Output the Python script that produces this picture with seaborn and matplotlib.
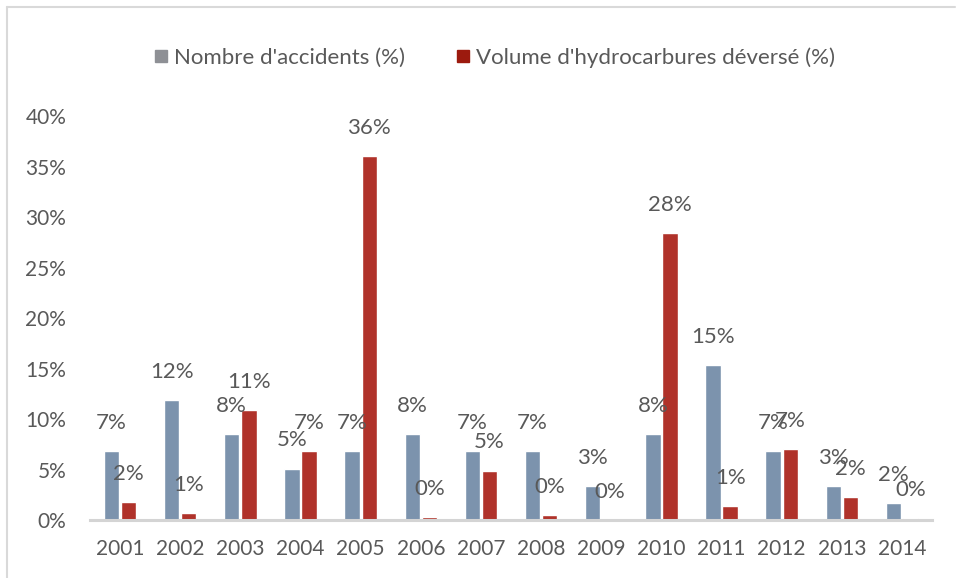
import seaborn as sns
import matplotlib.pyplot as plt
import pandas as pd
from matplotlib.ticker import PercentFormatter
from matplotlib.lines import Line2D

# Values (in %)
years = ['2001', '2002', '2003', '2004', '2005', '2006', '2007',
         '2008', '2009', '2010', '2011', '2012', '2013', '2014']
accidents = [6.8, 11.9, 8.5, 5.1, 6.8, 8.5, 6.8, 6.8, 3.4, 8.5, 15.3, 6.8, 3.4, 1.7]
volume = [1.8, 0.7, 10.9, 6.8, 36.0, 0.3, 4.9, 0.5, 0.0, 28.4, 1.4, 7.0, 2.3, 0.2]
series = ["Nombre d'accidents (%)", "Volume d'hydrocarbures déversé (%)"]

bar_colors = ['#7c93ad', '#b0322a']
legend_colors = ['#8e9095', '#9c1a0e']
text_color = '#595959'

df = pd.DataFrame({
    'year': years * 2,
    'value': accidents + volume,
    'serie': [series[0]] * len(years) + [series[1]] * len(years),
})

sns.set_theme(style='white')
plt.rcParams['font.family'] = ['Lato', 'DejaVu Sans']

fig = plt.figure(figsize=(9.56, 5.78), dpi=100)
ax = fig.add_axes([0.0941, 0.1003, 0.8809, 0.699])

sns.barplot(data=df, x='year', y='value', hue='serie', palette=bar_colors,
            width=0.57, gap=0.1, saturation=1, ax=ax, legend=False)

# data labels above each bar
for cont in ax.containers:
    ax.bar_label(cont, labels=[f"{v:.0f}%" for v in cont.datavalues],
                 padding=13, fontsize=16, color=text_color)

ax.set_ylim(0, 40)
ax.set_xlim(-0.5, len(years) - 0.5)
ax.set_yticks(range(0, 41, 5))
ax.yaxis.set_major_formatter(PercentFormatter(100, decimals=0))
ax.set_xlabel('')
ax.set_ylabel('')
ax.tick_params(axis='both', length=0, labelsize=15, colors=text_color)
ax.tick_params(axis='y', pad=17)
ax.tick_params(axis='x', pad=14)

for side in ['top', 'right', 'left']:
    ax.spines[side].set_visible(False)
ax.spines['bottom'].set_color('#d4d4d4')
ax.spines['bottom'].set_linewidth(2.2)

handles = [Line2D([], [], marker='s', linestyle='none', markersize=9,
                  markerfacecolor=c, markeredgecolor=c) for c in legend_colors]
fig.legend(handles, series, loc='center', bbox_to_anchor=(0.514, 0.901),
           ncol=2, frameon=False, fontsize=16, labelcolor=text_color,
           handletextpad=0.0, handlelength=1.2, columnspacing=2.0)

# light frame around the chart (top and left edges visible)
fig.add_artist(Line2D([0.0075, 0.999], [0.988, 0.988], color='#d9d9d9', lw=1.5))
fig.add_artist(Line2D([0.0075, 0.0075], [0.0, 0.988], color='#d9d9d9', lw=1.5))

fig.savefig('out.png', dpi=100)
